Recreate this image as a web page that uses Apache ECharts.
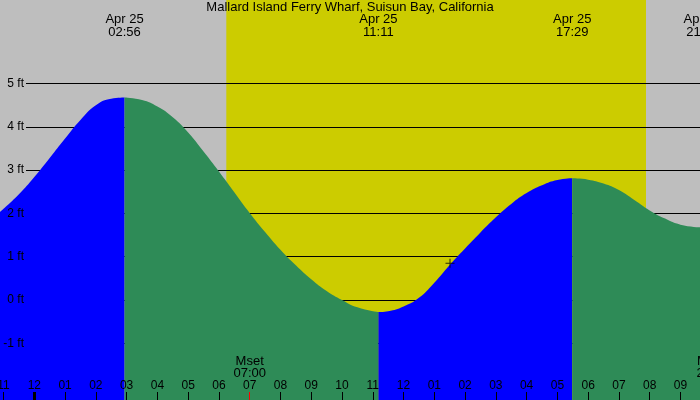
<!DOCTYPE html>
<html><head><meta charset="utf-8">
<script src="https://cdn.jsdelivr.net/npm/echarts@6/dist/echarts.min.js"></script>
<style>html,body{margin:0;padding:0;background:#bebebe}#c{width:700px;height:400px}</style>
</head><body><div id="c"></div>
<script>
// ---- data ----
const chartTitle = 'Mallard Island Ferry Wharf, Suisun Bay, California';
const xRange = [-1.115, 21.635];          // hours from midnight Apr 25
const yRange = [-2.31, 6.93];             // feet
const hourTicks = [-1,0,1,2,3,4,5,6,7,8,9,10,11,12,13,14,15,16,17,18,19,20,21];
const ftTicks = [-1,0,1,2,3,4,5];
const daylight = [6.24, 19.88];           // sunrise, sunset (hours)
const tideDate = 'Apr 25';
const tideHours = [2.933, 11.183, 17.483, 21.72];
const tideTimes = ['02:56', '11:11', '17:29', '21:43'];
const moonNames = ['Mset', 'Mrise'];
const moonHours = [7, 22.05];
const moonTimes = ['07:00', '22:03'];
const midnightTicks = [0];
const rising1 = [[-1.115,2.03],[-0.5,2.44],[0,2.84],[0.5,3.28],[1,3.73],[1.5,4.16],[2,4.5],[2.5,4.65],[2.933,4.68]];
const falling1 = [[2.933,4.68],[3.5,4.62],[4,4.47],[4.5,4.22],[5,3.87],[5.5,3.43],[6,2.97],[6.5,2.49],[7,2.01],[7.5,1.57],[8,1.16],[8.5,0.8],[9,0.48],[9.5,0.21],[10,0.0],[10.5,-0.17],[11.183,-0.28]];
const rising2 = [[11.183,-0.28],[11.5,-0.26],[12,-0.15],[12.5,0.05],[13,0.4],[13.5,0.81],[14,1.19],[14.5,1.56],[15,1.91],[15.5,2.22],[16,2.47],[16.5,2.65],[17,2.77],[17.483,2.81]];
const falling2 = [[17.483,2.81],[18,2.78],[18.5,2.69],[19,2.54],[19.5,2.31],[20,2.07],[20.5,1.88],[21,1.74],[21.635,1.68]];
const nowMarker = [[13.51, 0.85]];

// ---- styles ----
const FONT = 'Liberation Sans';
const GRAY = '#bebebe', DAY = '#cccc00', RISE = '#0000ff', FALL = '#2e8b57';
const hourLabel = v => { const h = ((v % 12) + 12) % 12; return h === 0 ? '12' : String(h).padStart(2, '0'); };

function tideSeries(data, color) {
  return { type: 'line', xAxisIndex: 0, yAxisIndex: 0, data, smooth: 0.5, showSymbol: false,
    lineStyle: { width: 0, opacity: 0 }, areaStyle: { color, opacity: 1, origin: 'start' }, z: 2, silent: true };
}
const bottomAxis = (ticks, color, width, showLabels) => ({
  type: 'value', gridIndex: 0, position: 'bottom', min: xRange[0], max: xRange[1], z: 10,
  axisLine: { show: false, onZero: false }, splitLine: { show: false },
  axisTick: { show: true, inside: true, length: 8, customValues: ticks, lineStyle: { color, width } },
  axisLabel: showLabels ? { show: true, inside: true, margin: 8.6, customValues: hourTicks, formatter: hourLabel,
    color: '#000', fontFamily: FONT, fontSize: 12, lineHeight: 12 } : { show: false }
});

const option = {
  backgroundColor: GRAY,
  animation: false,
  textStyle: { fontFamily: FONT },
  title: { text: chartTitle, left: 'center', top: 1.2, padding: 0,
    textStyle: { fontFamily: FONT, fontSize: 13, fontWeight: 'normal', color: '#000', lineHeight: 13 } },
  grid: [
    { left: 0, right: 0, top: 0, bottom: 0, outerBoundsMode: 'none', containLabel: false },
    { left: 26, right: 0, top: 0, bottom: 0, outerBoundsMode: 'none', containLabel: false }
  ],
  xAxis: [
    bottomAxis(hourTicks.filter(h => !midnightTicks.includes(h) && !moonHours.includes(h)), '#000', 1, true),
    bottomAxis(midnightTicks, '#000', 3, false),
    bottomAxis(moonHours.filter(h => h <= xRange[1]), '#ff0000', 1, false),
    { type: 'value', gridIndex: 1, min: xRange[0], max: xRange[1], show: false }
  ],
  yAxis: [
    { type: 'value', gridIndex: 0, min: yRange[0], max: yRange[1], show: false },
    { type: 'value', gridIndex: 1, min: yRange[0], max: yRange[1], z: 10,
      axisLine: { show: false, onZero: false }, axisTick: { show: false }, splitLine: { show: false },
      axisLabel: { show: true, margin: 2, customValues: ftTicks, formatter: v => v + ' ft',
        color: '#000', fontFamily: FONT, fontSize: 12 } }
  ],
  series: [
    { type: 'line', xAxisIndex: 0, yAxisIndex: 0, data: [], z: 0, silent: true,
      markArea: { silent: true, z: 0, itemStyle: { color: DAY, opacity: 1 },
        data: [[{ xAxis: daylight[0] }, { xAxis: daylight[1] }]] } },
    { type: 'line', xAxisIndex: 3, yAxisIndex: 1, data: [], z: 1, silent: true,
      markLine: { silent: true, z: 1, symbol: ['none', 'none'], label: { show: false },
        lineStyle: { color: '#000', width: 1, type: 'solid' },
        data: ftTicks.map(v => ({ yAxis: v })) } },
    tideSeries(rising1, RISE),
    tideSeries(falling1, FALL),
    tideSeries(rising2, RISE),
    tideSeries(falling2, FALL),
    { type: 'scatter', xAxisIndex: 0, yAxisIndex: 0, data: nowMarker, z: 5, silent: true,
      symbol: 'path://M0,4H9V5H0Z M4,0H5V9H4Z', symbolSize: 9, itemStyle: { color: '#000' } }
  ]
};

const chart = echarts.init(document.getElementById('c'), null, { renderer: 'canvas' });
chart.setOption(option);

const gfx = [];
tideHours.forEach((h, i) => {
  const x = chart.convertToPixel({ xAxisIndex: 0 }, h);
  gfx.push({ type: 'text', x, y: 13.4, z: 20, silent: true,
    style: { text: tideDate + '\n' + tideTimes[i], align: 'center', verticalAlign: 'top',
      fontFamily: FONT, fontSize: 13, lineHeight: 12.5, fill: '#000' } });
});
moonHours.forEach((h, i) => {
  const x = chart.convertToPixel({ xAxisIndex: 0 }, h);
  gfx.push({ type: 'text', x, y: 355, z: 20, silent: true,
    style: { text: moonNames[i] + '\n' + moonTimes[i], align: 'center', verticalAlign: 'top',
      fontFamily: FONT, fontSize: 13, lineHeight: 12.5, fill: '#000' } });
});
chart.setOption({ graphic: gfx });
</script>
</body></html>
